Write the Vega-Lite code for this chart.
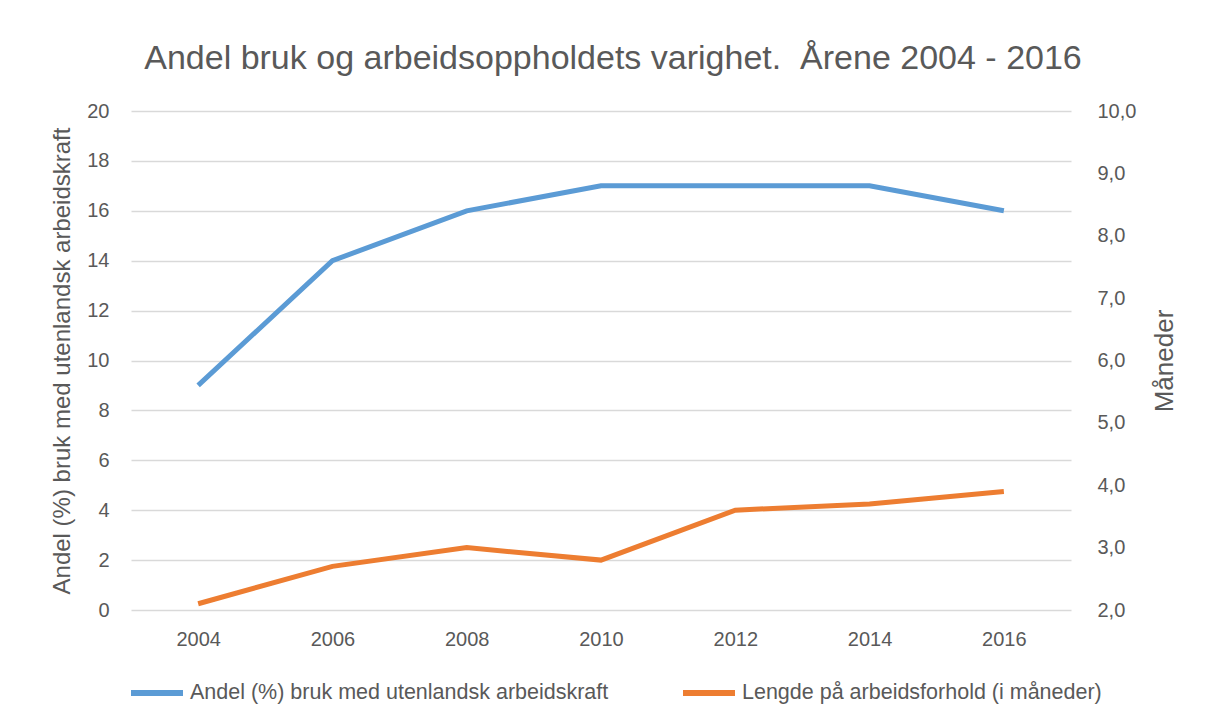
{
  "$schema": "https://vega.github.io/schema/vega-lite/v6.json",
  "autosize": {"type": "none"},
  "width": 940,
  "height": 499,
  "padding": {"left": 131, "top": 111, "right": 135, "bottom": 115},
  "background": "white",
  "config": {
    "font": "Liberation Sans",
    "view": {"stroke": null},
    "axis": {"labelColor": "#595959", "titleColor": "#595959", "labelFont": "Liberation Sans", "titleFont": "Liberation Sans", "titleFontWeight": "normal"},
    "legend": {"labelFont": "Liberation Sans"},
    "title": {"font": "Liberation Sans"}
  },
  "title": {
    "text": "Andel bruk og arbeidsoppholdets varighet.\u00a0 Årene 2004 - 2016",
    "fontSize": 34,
    "fontWeight": "normal",
    "color": "#595959",
    "anchor": "middle",
    "offset": 25,
    "dx": 12
  },
  "data": {
    "values": [
      {"year": "2004", "series": "Andel (%) bruk med utenlandsk arbeidskraft", "value": 9},
      {"year": "2006", "series": "Andel (%) bruk med utenlandsk arbeidskraft", "value": 14},
      {"year": "2008", "series": "Andel (%) bruk med utenlandsk arbeidskraft", "value": 16},
      {"year": "2010", "series": "Andel (%) bruk med utenlandsk arbeidskraft", "value": 17},
      {"year": "2012", "series": "Andel (%) bruk med utenlandsk arbeidskraft", "value": 17},
      {"year": "2014", "series": "Andel (%) bruk med utenlandsk arbeidskraft", "value": 17},
      {"year": "2016", "series": "Andel (%) bruk med utenlandsk arbeidskraft", "value": 16},
      {"year": "2004", "series": "Lengde på arbeidsforhold (i måneder)", "value": 2.1},
      {"year": "2006", "series": "Lengde på arbeidsforhold (i måneder)", "value": 2.7},
      {"year": "2008", "series": "Lengde på arbeidsforhold (i måneder)", "value": 3.0},
      {"year": "2010", "series": "Lengde på arbeidsforhold (i måneder)", "value": 2.8},
      {"year": "2012", "series": "Lengde på arbeidsforhold (i måneder)", "value": 3.6},
      {"year": "2014", "series": "Lengde på arbeidsforhold (i måneder)", "value": 3.7},
      {"year": "2016", "series": "Lengde på arbeidsforhold (i måneder)", "value": 3.9}
    ]
  },
  "encoding": {
    "x": {
      "field": "year",
      "type": "ordinal",
      "scale": {"type": "point", "padding": 0.5},
      "axis": {"title": null, "labelAngle": 0, "labelFontSize": 20, "labelPadding": 19, "ticks": false, "domain": false, "grid": false}
    },
    "color": {
      "field": "series",
      "type": "nominal",
      "scale": {"range": ["#5B9BD5", "#ED7D31"]},
      "legend": {
        "title": null,
        "orient": "none",
        "direction": "horizontal",
        "legendX": -3,
        "legendY": 553,
        "symbolType": "stroke",
        "symbolSize": 2704,
        "symbolStrokeWidth": 6,
        "labelFontSize": 21.5,
        "labelColor": "#595959",
        "labelLimit": 600,
        "columnPadding": 62,
        "labelOffset": 4
      }
    }
  },
  "layer": [
    {
      "transform": [{"filter": "datum.series === 'Andel (%) bruk med utenlandsk arbeidskraft'"}],
      "mark": {"type": "line", "strokeWidth": 5},
      "encoding": {
        "y": {
          "field": "value",
          "type": "quantitative",
          "scale": {"domain": [0, 20], "nice": false},
          "axis": {
            "orient": "left",
            "title": "Andel (%) bruk med utenlandsk arbeidskraft",
            "titleFontSize": 24,
            "titlePadding": 12,
            "labelFontSize": 20,
            "labelPadding": 22,
            "values": [0, 2, 4, 6, 8, 10, 12, 14, 16, 18, 20],
            "ticks": false,
            "domain": false,
            "grid": true,
            "gridColor": "#d9d9d9",
            "gridWidth": 1.5
          }
        }
      }
    },
    {
      "transform": [{"filter": "datum.series === 'Lengde på arbeidsforhold (i måneder)'"}],
      "mark": {"type": "line", "strokeWidth": 5},
      "encoding": {
        "y": {
          "field": "value",
          "type": "quantitative",
          "scale": {"domain": [2, 10], "nice": false, "zero": false},
          "axis": {
            "orient": "right",
            "title": "Måneder",
            "titleAngle": 270,
            "titleFontSize": 26,
            "titlePadding": 42,
            "labelFontSize": 20,
            "labelPadding": 26,
            "values": [2, 3, 4, 5, 6, 7, 8, 9, 10],
            "labelExpr": "replace(format(datum.value, '.1f'), '.', ',')",
            "ticks": false,
            "domain": false,
            "grid": false
          }
        }
      }
    }
  ],
  "resolve": {"scale": {"y": "independent"}}
}
